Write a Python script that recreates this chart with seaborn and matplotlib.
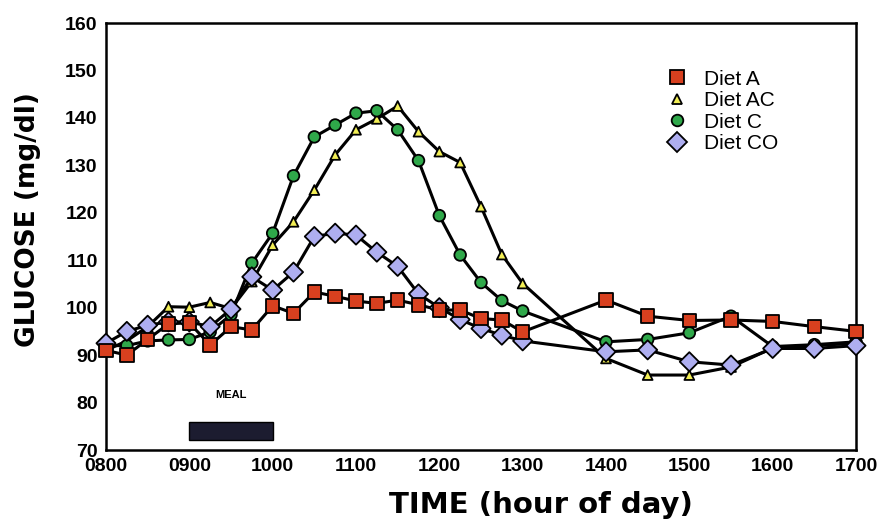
import matplotlib
matplotlib.use('Agg')
import matplotlib.pyplot as plt
from matplotlib.patches import Rectangle
import numpy as np
import pandas as pd
import seaborn as sns

# sampling clock times (every 15 min until 13:00, then every 30 min)
times = ['08:00', '08:15', '08:30', '08:45', '09:00', '09:15', '09:30', '09:45',
         '10:00', '10:15', '10:30', '10:45', '11:00', '11:15', '11:30', '11:45',
         '12:00', '12:15', '12:30', '12:45', '13:00', '14:00', '14:30', '15:00',
         '15:30', '16:00', '16:30', '17:00']

diet_a = [91, 90, 93.3, 96.6, 96.8, 92.1, 96.0, 95.3, 100.4, 98.8, 103.3, 102.4,
          101.4, 100.9, 101.6, 100.6, 99.5, 99.5, 97.7, 97.4, 94.9, 101.6, 98.2,
          97.3, 97.4, 97.1, 96.0, 95.0]
diet_ac = [91, 93, 96, 100.2, 100.1, 101.1, 99.8, 105.5, 113.2, 118.1, 124.8, 132.2,
           137.5, 139.8, 142.5, 137.1, 132.9, 130.6, 121.3, 111.2, 105.1, 89.3, 85.8,
           85.8, 87.5, 91.5, 92.0, 92.5]
diet_c = [92, 92, 93, 93.2, 93.3, 94.9, 98.5, 109.4, 115.7, 127.8, 136.0, 138.5,
          141.0, 141.5, 137.5, 131.0, 119.4, 111.1, 105.3, 101.5, 99.3, 92.8, 93.3,
          94.7, 98.2, 91.8, 92.2, 92.8]
diet_co = [92.5, 95.0, 96.3, 97, 97, 96, 99.7, 106.5, 103.7, 107.5, 115.0, 115.7,
           115.3, 111.7, 108.7, 102.9, 100.0, 97.5, 95.6, 94.2, 93.0, 90.7, 91.1,
           88.6, 87.9, 91.4, 91.4, 92.0]

diets = ['Diet A', 'Diet AC', 'Diet C', 'Diet CO']
# drawing order for markers (last one ends on top)
draw_order = ['Diet AC', 'Diet C', 'Diet CO', 'Diet A']

xticks = ['0800', '0900', '1000', '1100', '1200', '1300', '1400', '1500', '1600', '1700']
yticks = [70, 80, 90, 100, 110, 120, 130, 140, 150, 160]

meal_start, meal_end = '09:00', '10:00'


def to_hours(t):
    hh, mm = t.split(':')
    return int(hh) + int(mm) / 60


hours = [to_hours(t) for t in times]
values = {'Diet A': diet_a, 'Diet AC': diet_ac, 'Diet C': diet_c, 'Diet CO': diet_co}
df = pd.concat([pd.DataFrame({'hour': hours, 'glucose': values[d], 'diet': d})
                for d in draw_order], ignore_index=True)

palette = {'Diet A': '#d8401f', 'Diet AC': '#f2ee55', 'Diet C': '#2fa84a', 'Diet CO': '#aeaef0'}
markers = {'Diet A': 's', 'Diet AC': '^', 'Diet C': 'o', 'Diet CO': 'D'}
sizes = {'Diet A': 95, 'Diet AC': 50, 'Diet C': 70, 'Diet CO': 95}

sns.set_style('white')
plt.rcParams['font.family'] = ['Liberation Sans', 'DejaVu Sans']
plt.rcParams['text.color'] = 'black'
plt.rcParams['axes.labelcolor'] = 'black'
plt.rcParams['xtick.color'] = 'black'
plt.rcParams['ytick.color'] = 'black'

fig = plt.figure(figsize=(8.87, 5.29), dpi=100)
ax = fig.add_axes([106 / 887, 1 - 450 / 529, 750 / 887, 427 / 529])

sns.lineplot(data=df, x='hour', y='glucose', units='diet', estimator=None,
             color='black', lw=2.2, legend=False, ax=ax, zorder=2)
sns.scatterplot(data=df, x='hour', y='glucose', hue='diet', style='diet', size='diet',
                hue_order=diets, style_order=diets, size_order=diets,
                palette=palette, markers=markers, sizes=sizes,
                edgecolor='black', linewidth=1.3, ax=ax, zorder=3, clip_on=False)

# meal bar
m0, m1 = to_hours(meal_start), to_hours(meal_end)
ax.add_patch(Rectangle((m0, 72.2), m1 - m0, 3.8, facecolor='#1c1c30',
                       edgecolor='black', lw=1, zorder=2))
ax.text((m0 + m1) / 2, 81.5, 'MEAL', ha='center', va='center', fontsize=8,
        fontweight='bold')

ax.set_xlim(8, 17)
ax.set_ylim(70, 160)
ax.set_xticks([to_hours(t[:2] + ':' + t[2:]) for t in xticks])
ax.set_xticklabels(xticks)
ax.set_yticks(yticks)
ax.tick_params(direction='in', length=7, width=1.5, labelsize=14, pad=6)
for lab in ax.get_xticklabels() + ax.get_yticklabels():
    lab.set_fontweight('bold')
for sp in ax.spines.values():
    sp.set_linewidth(1.8)
    sp.set_color('black')

ax.set_xlabel('TIME (hour of day)', fontsize=21, fontweight='bold',
              family=['DejaVu Sans'])
ax.set_ylabel('GLUCOSE (mg/dl)', fontsize=19, fontweight='bold',
              family=['DejaVu Sans'])
ax.xaxis.set_label_coords(0.58, -0.095)
ax.yaxis.set_label_coords(-0.087, 0.54)

sns.move_legend(ax, 'upper left', bbox_to_anchor=(0.72, 0.915), frameon=False,
                title=None, fontsize=15, handletextpad=0.3, labelspacing=0.12,
                borderpad=0)

fig.savefig('out.png', dpi=100)
